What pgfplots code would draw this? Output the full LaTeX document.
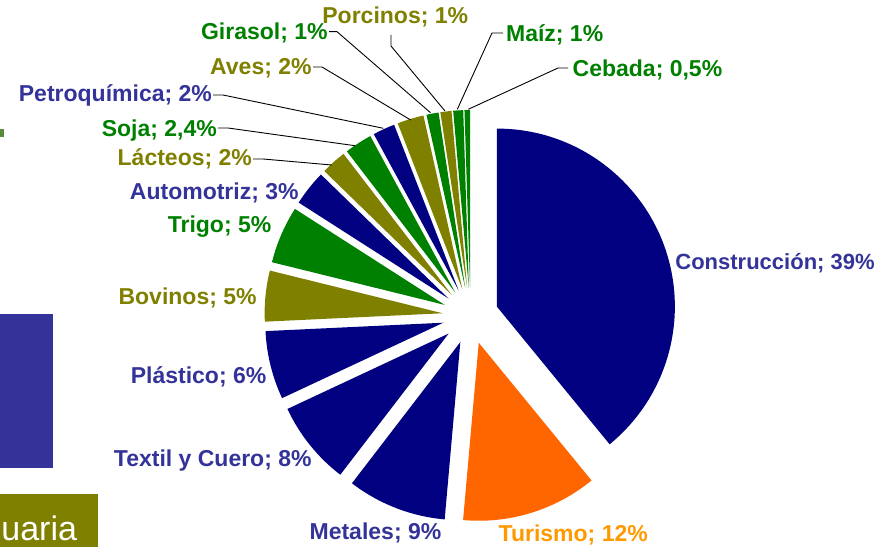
\documentclass[border=0pt]{standalone}
\usepackage{pgfplots}
\pgfplotsset{compat=1.18}
\usepackage{pgfplotstable}
\usepackage{fontspec}
\setmainfont{Liberation Sans}
\definecolor{navyS}{HTML}{000080}
\definecolor{orangeS}{HTML}{FF6600}
\definecolor{oliveS}{HTML}{808000}
\definecolor{greenS}{HTML}{008000}
\definecolor{labBlue}{HTML}{333399}
\definecolor{labOrange}{HTML}{FF9900}
\definecolor{markGreen}{HTML}{5A8A3C}

% slice values (share of total, clockwise from 12 o'clock)
\pgfplotstableread[col sep=comma]{
name,value,color
Construccion,39.0,navyS
Turismo,12.3,orangeS
Metales,9.0,navyS
Textil y Cuero,7.6,navyS
Plastico,6.2,navyS
Bovinos,4.6,oliveS
Trigo,5.2,greenS
Automotriz,3.2,navyS
Lacteos,2.3,oliveS
Soja,2.5,greenS
Petroquimica,2.0,navyS
Aves,2.4,oliveS
Girasol,1.1,greenS
Porcinos,1.0,oliveS
Maiz,0.9,greenS
Cebada,0.5,greenS
}\piedata

\tikzset{lab/.style={font=\bfseries\fontsize{11.5}{13}\selectfont, inner sep=0pt},
         lead/.style={black, line width=0.45pt}}

\begin{document}
\begin{tikzpicture}
\begin{axis}[width=437pt,height=273.5pt,scale only axis,
  xmin=0,xmax=874,ymin=0,ymax=547,hide axis,clip=false]
\coordinate (bl) at (axis cs:0,0);
\coordinate (tr) at (axis cs:874,547);
% background fragments of the slide
\fill[labBlue] (axis cs:0,79.3) rectangle (axis cs:52.7,233);
\fill[oliveS] (axis cs:0,0) rectangle (axis cs:97.7,53);
\node[anchor=base west, inner sep=0pt, text=white, font=\fontsize{17}{19}\selectfont] at (axis cs:1,7) {uaria};
\fill[markGreen] (axis cs:-1,409.7) rectangle (axis cs:3.5,418);
% pie
\pgfplotstablegetrowsof{\piedata}
\pgfmathtruncatemacro{\lastrow}{\pgfplotsretval-1}
\def\pietotal{0}
\pgfplotsforeachungrouped \i in {0,...,\lastrow}{%
  \pgfplotstablegetelem{\i}{value}\of\piedata
  \pgfmathsetmacro{\pietotal}{\pietotal+\pgfplotsretval}%
}
\pgfmathsetmacro{\degper}{360/\pietotal}
\def\piecum{0}
\pgfplotsforeachungrouped \i in {0,...,\lastrow}{%
  \pgfplotstablegetelem{\i}{value}\of\piedata \let\pv\pgfplotsretval
  \pgfplotstablegetelem{\i}{color}\of\piedata \let\pc\pgfplotsretval
  \pgfmathsetmacro{\aS}{90-\piecum*\degper}%
  \pgfmathsetmacro{\aE}{90-(\piecum+\pv)*\degper}%
  \pgfmathsetmacro{\aM}{(\aS+\aE)/2}%
  \pgfmathsetmacro{\vx}{470.5+28*cos(\aM)}%
  \pgfmathsetmacro{\vy}{231+28*sin(\aM)}%
  \edef\doslice{\noexpand\fill[\pc] (axis cs:\vx,\vy) -- ++(\aS:89pt) arc[start angle=\aS,end angle=\aE,radius=89pt] -- cycle;}%
  \doslice
  \pgfmathsetmacro{\piecum}{\piecum+\pv}%
}
% leader lines
\draw[lead] (axis cs:329,515.3) -- (axis cs:337,515.3) -- (axis cs:430.5,434.3);
\draw[lead] (axis cs:391,512) -- (axis cs:391,501) -- (axis cs:445,436);
\draw[lead] (axis cs:503,514) -- (axis cs:492,514) -- (axis cs:457.3,437.7);
\draw[lead] (axis cs:568,479) -- (axis cs:558,479) -- (axis cs:468.3,437.7);
\draw[lead] (axis cs:313,480) -- (axis cs:322,480) -- (axis cs:410.7,427);
\draw[lead] (axis cs:213,452) -- (axis cs:223,452) -- (axis cs:383.3,418.7);
\draw[lead] (axis cs:218,419) -- (axis cs:228,419) -- (axis cs:355,401.3);
\draw[lead] (axis cs:253,388) -- (axis cs:263,388) -- (axis cs:331.7,382);
% labels
\node[lab, anchor=base east, text=greenS] at (axis cs:328,507) {Girasol; 1\%};
\node[lab, anchor=base west, text=oliveS] at (axis cs:322,523) {Porcinos; 1\%};
\node[lab, anchor=base west, text=greenS] at (axis cs:505.7,505.5) {Maíz; 1\%};
\node[lab, anchor=base west, text=greenS] at (axis cs:572.3,470.5) {Cebada; 0,5\%};
\node[lab, anchor=base east, text=oliveS] at (axis cs:312,472.5) {Aves; 2\%};
\node[lab, anchor=base east, text=labBlue] at (axis cs:212.3,445) {Petroquímica; 2\%};
\node[lab, anchor=base east, text=greenS] at (axis cs:217.3,410.5) {Soja; 2,4\%};
\node[lab, anchor=base east, text=oliveS] at (axis cs:252.3,381.5) {Lácteos; 2\%};
\node[lab, anchor=base east, text=labBlue] at (axis cs:299,347) {Automotriz; 3\%};
\node[lab, anchor=base east, text=greenS] at (axis cs:271.7,314) {Trigo; 5\%};
\node[lab, anchor=base east, text=oliveS] at (axis cs:257,242) {Bovinos; 5\%};
\node[lab, anchor=base east, text=labBlue] at (axis cs:266.7,163) {Plástico; 6\%};
\node[lab, anchor=base east, text=labBlue] at (axis cs:312,80) {Textil y Cuero; 8\%};
\node[lab, anchor=base east, text=labBlue] at (axis cs:441.7,8) {Metales; 9\%};
\node[lab, anchor=base west, text=labOrange] at (axis cs:498.3,5.5) {Turismo; 12\%};
\node[lab, anchor=base west, text=labBlue, font=\bfseries\fontsize{11}{13}\selectfont] at (axis cs:675,277.5) {Construcción; 39\%};
\end{axis}
\pgfresetboundingbox
\path[use as bounding box] (bl) rectangle (tr);
\end{tikzpicture}
\end{document}
